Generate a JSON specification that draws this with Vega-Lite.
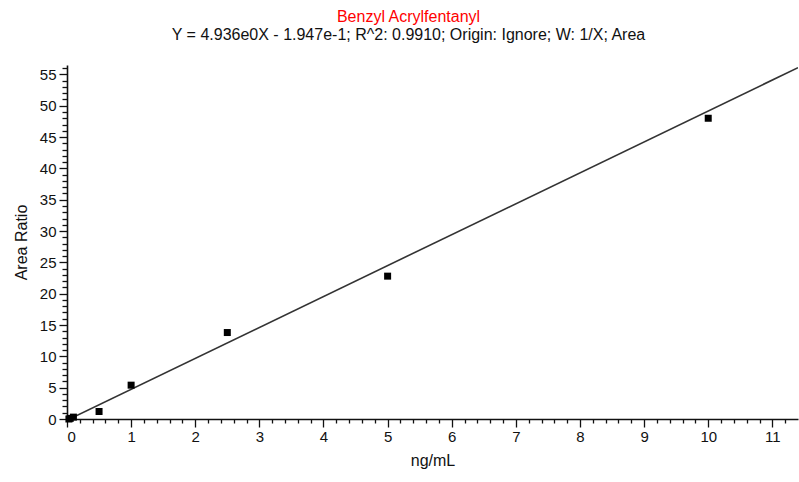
{
  "$schema": "https://vega.github.io/schema/vega-lite/v6.json",
  "autosize": "none",
  "width": 731,
  "height": 354,
  "padding": {"left": 67, "top": 65, "right": 1, "bottom": 63},
  "background": "white",
  "config": {
    "view": {"stroke": null},
    "font": "Liberation Sans",
    "axis": {"grid": false, "domainColor": "#111", "tickColor": "#111", "labelColor": "#111", "titleColor": "#111", "labelFont": "Liberation Sans", "titleFont": "Liberation Sans", "labelFontSize": 15, "titleFontSize": 16, "titleFontWeight": "normal", "domainWidth": 1.6, "tickWidth": 1.3}
  },
  "title": {
    "text": "Benzyl Acrylfentanyl",
    "subtitle": "Y = 4.936e0X - 1.947e-1; R^2: 0.9910; Origin: Ignore; W: 1/X; Area",
    "color": "#ff0000",
    "subtitleColor": "#111",
    "font": "Liberation Sans",
    "subtitleFont": "Liberation Sans",
    "fontSize": 16,
    "subtitleFontSize": 16,
    "fontWeight": "normal",
    "anchor": "middle",
    "frame": "group",
    "dx": -24,
    "offset": 22,
    "subtitlePadding": 2
  },
  "datasets": {
    "pts": [
      {"conc": 0.03, "ratio": 0.0},
      {"conc": 0.05, "ratio": 0.1},
      {"conc": 0.1, "ratio": 0.3},
      {"conc": 0.5, "ratio": 1.2},
      {"conc": 1.0, "ratio": 5.4},
      {"conc": 2.5, "ratio": 13.8},
      {"conc": 5.0, "ratio": 22.8},
      {"conc": 10.0, "ratio": 48.0}
    ],
    "fit": [
      {"conc": 0.05, "ratio": 0.05},
      {"conc": 11.4, "ratio": 56.08}
    ]
  },
  "resolve": {"axis": {"x": "independent", "y": "independent"}},
  "layer": [
    {
      "data": {"name": "fit"},
      "mark": {"type": "line", "color": "#333", "strokeWidth": 1.6, "clip": true},
      "encoding": {
        "x": {"field": "conc", "type": "quantitative", "scale": {"domain": [0, 11.4], "nice": false, "zero": false},
          "axis": {"orient": "bottom", "values": [0,1,2,3,4,5,6,7,8,9,10,11], "tickSize": 8, "labelPadding": 2, "title": "ng/mL", "titlePadding": 8, "domain": true}},
        "y": {"field": "ratio", "type": "quantitative", "scale": {"domain": [0, 56.5], "nice": false, "zero": false},
          "axis": {"orient": "left", "values": [0,5,10,15,20,25,30,35,40,45,50,55], "tickSize": 8, "labelPadding": 3, "title": "Area Ratio", "titlePadding": 10, "domain": true}}
      }
    },
    {
      "data": {"name": "pts"},
      "mark": {"type": "square", "color": "#000", "size": 49, "opacity": 1, "clip": false},
      "encoding": {
        "x": {"field": "conc", "type": "quantitative",
          "axis": {"orient": "bottom", "values": [0.2,0.4,0.6,0.8,1.2,1.4,1.6,1.8,2.2,2.4,2.6,2.8,3.2,3.4,3.6,3.8,4.2,4.4,4.6,4.8,5.2,5.4,5.6,5.8,6.2,6.4,6.6,6.8,7.2,7.4,7.6,7.8,8.2,8.4,8.6,8.8,9.2,9.4,9.6,9.8,10.2,10.4,10.6,10.8,11.2], "tickSize": 4, "labels": false, "title": null, "domain": false}},
        "y": {"field": "ratio", "type": "quantitative",
          "axis": {"orient": "left", "values": [1,2,3,4,6,7,8,9,11,12,13,14,16,17,18,19,21,22,23,24,26,27,28,29,31,32,33,34,36,37,38,39,41,42,43,44,46,47,48,49,51,52,53,54,56], "tickSize": 5, "labels": false, "title": null, "domain": false}}
      }
    }
  ]
}
